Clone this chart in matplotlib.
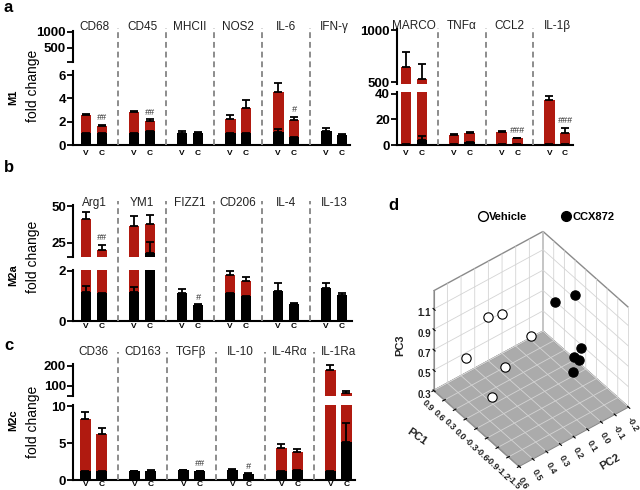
import numpy as np
import matplotlib
matplotlib.use('Agg')
import matplotlib.pyplot as plt
from matplotlib.lines import Line2D
import matplotlib.transforms as mtransforms

plt.rcParams['font.family'] = ['Liberation Sans', 'DejaVu Sans']
plt.rcParams['grid.color'] = '#d4d4d4'
plt.rcParams['grid.linewidth'] = 0.6

nan = np.nan
RED = '#b01a10'
SEP = '#8c8c8c'

# ---------------- Panel a (M1), left block ----------------
a1_genes = ['CD68', 'CD45', 'MHCII', 'NOS2', 'IL-6', 'IFN-γ']
a1_red_v = [2.55, 2.8, nan, 2.2, 4.5, nan]
a1_red_v_err = [0.12, 0.1, nan, 0.4, 0.8, nan]
a1_red_c = [1.6, 2.05, nan, 3.2, 2.1, nan]
a1_red_c_err = [0.1, 0.15, nan, 0.65, 0.3, nan]
a1_blk_v = [1.0, 1.0, 1.05, 1.0, 1.15, 1.2]
a1_blk_v_err = [nan, nan, 0.12, nan, 0.2, 0.27]
a1_blk_c = [1.0, 1.2, 1.05, 1.0, 0.7, 0.86]
a1_blk_c_err = [nan, nan, 0.07, nan, nan, 0.06]
a1_sig = ['##', '##', '', '', '#', '']

# ---------------- Panel a (M1), right block ----------------
a2_genes = ['MARCO', 'TNFα', 'CCL2', 'IL-1β']
a2_red_v = [640, 7.8, 10, 35]
a2_red_v_err = [145, 0.5, 0.6, 3.5]
a2_red_c = [525, 9.5, 5.2, 9.5]
a2_red_c_err = [150, 0.6, 0.4, 4]
a2_blk_v = [1.0, 1.0, 1.0, 1.0]
a2_blk_v_err = [nan, nan, nan, nan]
a2_blk_c = [4.0, 2.5, 1.0, 1.0]
a2_blk_c_err = [3.0, nan, nan, nan]
a2_sig = ['', '', '###', '###']

# ---------------- Panel b (M2a) ----------------
b_genes = ['Arg1', 'YM1', 'FIZZ1', 'CD206', 'IL-4', 'IL-13']
b_red_v = [41, 36.5, nan, 1.81, nan, nan]
b_red_v_err = [5, 7, nan, 0.17, nan, nan]
b_red_c = [20.5, 38, nan, 1.6, nan, nan]
b_red_c_err = [3.2, 6, nan, 0.15, nan, nan]
b_blk_v = [1.16, 1.15, 1.11, 1.1, 1.2, 1.3]
b_blk_v_err = [0.23, 0.2, 0.16, nan, 0.3, 0.22]
b_blk_c = [1.11, 18.2, 0.63, 0.99, 0.67, 1.03]
b_blk_c_err = [nan, 7.7, 0.03, nan, 0.05, 0.09]
b_sig = ['##', '', '#', '', '', '']

# ---------------- Panel c (M2c) ----------------
c_genes = ['CD36', 'CD163', 'TGFβ', 'IL-10', 'IL-4Rα', 'IL-1Ra']
c_red_v = [8.2, nan, nan, nan, 4.3, 176]
c_red_v_err = [0.95, nan, nan, nan, 0.5, 25]
c_red_c = [6.2, nan, nan, nan, 3.75, 63]
c_red_c_err = [0.8, nan, nan, nan, 0.45, 10]
c_blk_v = [1.2, 1.15, 1.35, 1.4, 1.15, 1.2]
c_blk_v_err = [nan, 0.05, 0.06, 0.08, nan, nan]
c_blk_c = [1.2, 1.25, 1.15, 0.85, 1.35, 5.2]
c_blk_c_err = [nan, 0.05, 0.05, 0.05, nan, 2.5]
c_sig = ['', '', '##', '#', '', '']

# ---------------- Panel d (PCA) ----------------
veh_pc1 = [0.37, 0.28, 0.60, 0.10, -0.07, -0.05]
veh_pc2 = [0.34, 0.26, 0.44, 0.29, 0.14, 0.42]
veh_pc3 = [1.0, 1.0, 0.6, 0.55, 0.8, 0.4]
ccx_pc1 = [-0.04, -0.24, -0.44, -0.44, -0.45, -0.51]
ccx_pc2 = [-0.04, -0.14, -0.13, -0.08, -0.11, -0.05]
ccx_pc3 = [1.0, 1.05, 0.6, 0.55, 0.5, 0.45]
pc1_ticks = [-1.5, -1.2, -0.9, -0.6, -0.3, 0.0, 0.3, 0.6, 0.9]
pc2_ticks = [-0.2, -0.1, 0.0, 0.1, 0.2, 0.3, 0.4, 0.5, 0.6]
pc3_ticks = [0.3, 0.5, 0.7, 0.9, 1.1]

W, H = 640, 490
fig = plt.figure(figsize=(6.4, 4.9), dpi=100)


def rect(x0, x1, ytop, ybot):
    return [x0 / W, 1 - ybot / H, (x1 - x0) / W, (ybot - ytop) / H]


def draw_panel(genes, red_v, red_v_err, red_c, red_c_err, blk_v, blk_v_err,
               blk_c, blk_c_err, sig, x0, x1, y_base, y_low_top, low_lim,
               low_ticks, y_up_bot, y_up_top, up_lim, up_ticks, up_labels,
               xlim, label_y, sep_top, vc_pad):
    n = len(genes)
    idx = np.arange(n)
    xv = idx - 0.165
    xc = idx + 0.165
    bw = 0.22
    ax_lo = fig.add_axes(rect(x0, x1, y_low_top, y_base))
    ax_up = fig.add_axes(rect(x0, x1, y_up_top, y_up_bot))
    for ax in (ax_lo, ax_up):
        ax.patch.set_alpha(0)
        ax.bar(xv, red_v, bw, color=RED, zorder=2)
        ax.bar(xc, red_c, bw, color=RED, zorder=2)
        ax.bar(xv, blk_v, bw, color='black', zorder=3)
        ax.bar(xc, blk_c, bw, color='black', zorder=3)
        zeros = np.zeros(n)
        for xs, vals, errs in [(xv, red_v, red_v_err), (xc, red_c, red_c_err),
                               (xv, blk_v, blk_v_err), (xc, blk_c, blk_c_err)]:
            ax.errorbar(xs, vals, yerr=[zeros, errs], fmt='none', ecolor='black',
                        elinewidth=1.3, capsize=3, capthick=1.3, zorder=4)
        ax.set_xlim(*xlim)
        for s in ('top', 'right'):
            ax.spines[s].set_visible(False)
        ax.spines['left'].set_linewidth(1.5)
        ax.tick_params(axis='y', direction='out', length=4, width=1.3,
                       labelsize=9.5, pad=1)
    ax_lo.set_ylim(*low_lim)
    ax_lo.set_yticks(low_ticks)
    ax_lo.set_yticklabels([('%g' % t) for t in low_ticks], fontweight='bold')
    ax_lo.spines['bottom'].set_linewidth(1.5)
    ax_lo.set_xticks(list(xv) + list(xc))
    ax_lo.set_xticklabels(['V'] * n + ['C'] * n, fontsize=6, fontweight='bold')
    ax_lo.tick_params(axis='x', length=0, pad=vc_pad)
    ax_up.set_ylim(*up_lim)
    ax_up.set_yticks(up_ticks)
    ax_up.set_yticklabels(up_labels, fontweight='bold')
    ax_up.spines['bottom'].set_visible(False)
    ax_up.set_xticks([])

    trans = mtransforms.blended_transform_factory(ax_lo.transData, fig.transFigure)
    for i in range(n - 1):
        fig.add_artist(Line2D([i + 0.5, i + 0.5], [1 - y_base / H, 1 - sep_top / H],
                              transform=trans, color=SEP, lw=1.4,
                              ls=(0, (3, 2))))
    for i, g in enumerate(genes):
        ax_lo.text(i, 1 - label_y / H, g, transform=trans, ha='center',
                   va='center', fontsize=8.5, color='#222222')
        if sig[i]:
            tops = [v + (e if not np.isnan(e) else 0) for v, e in
                    [(red_c[i], red_c_err[i]), (blk_c[i], blk_c_err[i])]
                    if not np.isnan(v)]
            top = max(tops)
            ax = ax_up if top > low_lim[1] else ax_lo
            ax.annotate(sig[i], xy=(xc[i], top), xytext=(0, 2),
                        textcoords='offset points', ha='center', va='bottom',
                        fontsize=6.5, style='italic', color='#333333')
    return ax_lo, ax_up


draw_panel(a1_genes, a1_red_v, a1_red_v_err, a1_red_c, a1_red_c_err,
           a1_blk_v, a1_blk_v_err, a1_blk_c, a1_blk_c_err, a1_sig,
           73, 350, 145, 71.5, (0, 6.3), [0, 2, 4, 6],
           62, 31, (62.5, 1031), [62.5, 500, 1000], ['', '500', '1000'],
           (-0.44, 5.33), 27, 28, 3.5)
draw_panel(a2_genes, a2_red_v, a2_red_v_err, a2_red_c, a2_red_c_err,
           a2_blk_v, a2_blk_v_err, a2_blk_c, a2_blk_c_err, a2_sig,
           397, 573, 145, 92, (0, 41.5), [0, 20, 40],
           84, 29, (481, 1010), [500, 1000], ['500', '1000'],
           (-0.356, 3.33), 26, 28, 3.5)
draw_panel(b_genes, b_red_v, b_red_v_err, b_red_c, b_red_c_err,
           b_blk_v, b_blk_v_err, b_blk_c, b_blk_c_err, b_sig,
           73, 352, 321, 270, (0, 2.02), [0, 2],
           257, 205, (15.5, 50.7), [15.5, 25, 50], ['', '25', '50'],
           (-0.4375, 5.375), 203, 201, 1.5)
draw_panel(c_genes, c_red_v, c_red_v_err, c_red_c, c_red_c_err,
           c_blk_v, c_blk_v_err, c_blk_c, c_blk_c_err, c_sig,
           73, 355, 480, 405, (0, 10.14), [0, 5, 10],
           396, 364, (50.2, 208), [50.2, 100, 200], ['', '100', '200'],
           (-0.418, 5.34), 352, 352, 0.5)

# y labels and panel letters
for name, ym, yf in [('M1', 97, 86), ('M2a', 275, 257), ('M2c', 420, 422)]:
    fig.text(13 / W, 1 - ym / H, name, rotation=90, ha='center', va='center',
             fontsize=8, fontweight='bold')
    fig.text(33 / W, 1 - yf / H, 'fold change', rotation=90, ha='center',
             va='center', fontsize=10)
for letter, x, y in [('a', 4, 7), ('b', 4, 168), ('c', 4, 345), ('d', 388, 205)]:
    fig.text(x / W, 1 - y / H, letter, ha='left', va='center', fontsize=12,
             fontweight='bold')

# ---------------- Panel d: 3D PCA ----------------
ax3 = fig.add_axes(rect(395, 660, 216, 489), projection='3d')
ax3.set_proj_type('ortho')
ax3.view_init(elev=44, azim=142)
ax3.set_box_aspect((1, 1, 1), zoom=0.88)
ax3.patch.set_alpha(0)
ax3.scatter(veh_pc1, veh_pc2, veh_pc3, s=45, facecolors='white',
            edgecolors='black', linewidths=0.8, depthshade=False)
ax3.scatter(ccx_pc1, ccx_pc2, ccx_pc3, s=45, facecolors='black',
            edgecolors='black', linewidths=0.8, depthshade=False)
ax3.set_xlim(-1.5, 0.9)
ax3.set_ylim(-0.2, 0.6)
ax3.set_zlim(0.3, 1.28)
ax3.set_xticks(pc1_ticks)
ax3.set_yticks(pc2_ticks)
ax3.set_zticks(pc3_ticks)
ax3.set_xticklabels(['%.1f' % t for t in pc1_ticks], fontsize=6.5,
                    fontweight='bold', rotation=-45, color='#222222')
ax3.set_yticklabels(['%.1f' % t for t in pc2_ticks], fontsize=6.5,
                    fontweight='bold', rotation=-60, color='#222222')
ax3.set_zticklabels(['%.1f' % t for t in pc3_ticks], fontsize=7,
                    fontweight='bold', color='#222222')
ax3.tick_params(pad=-3)
ax3.zaxis._axinfo['juggled'] = (1, 2, 0)
ax3.xaxis.set_pane_color((1, 1, 1, 1))
ax3.yaxis.set_pane_color((1, 1, 1, 1))
ax3.zaxis.set_pane_color('#ababab')
for axis in (ax3.xaxis, ax3.yaxis, ax3.zaxis):
    axis.pane.set_edgecolor('#8a8a8a')
    axis.line.set_color('#8a8a8a')
fig.text(417 / W, 1 - 437 / H, 'PC1', rotation=-35, ha='center', va='center',
         fontsize=8, fontweight='bold', color='#222222')
fig.text(610 / W, 1 - 462 / H, 'PC2', rotation=30, ha='center', va='center',
         fontsize=8, fontweight='bold', color='#222222')
fig.text(400 / W, 1 - 345 / H, 'PC3', rotation=90, ha='center', va='center',
         fontsize=8, fontweight='bold', color='#222222')

handles = [Line2D([], [], marker='o', ls='', mfc='white', mec='black', ms=7,
                  label='Vehicle'),
           Line2D([], [], marker='o', ls='', mfc='black', mec='black', ms=7,
                  label='CCX872')]
fig.legend(handles=handles, loc='center', bbox_to_anchor=(546 / W, 1 - 217 / H),
           ncol=2, frameon=False, prop={'weight': 'bold', 'size': 8},
           handletextpad=0.05, columnspacing=3, handlelength=1)

fig.savefig('out.png', dpi=100)
